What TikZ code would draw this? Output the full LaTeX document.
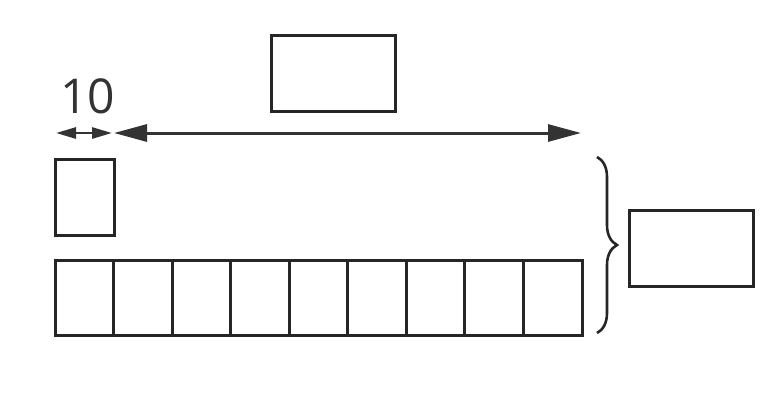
\documentclass[tikz,border=0pt]{standalone}
\usepackage{fontspec}
\setmainfont{Open Sans}
\usetikzlibrary{arrows.meta,decorations.pathreplacing}
\begin{document}
\begin{tikzpicture}[x=1pt,y=-1pt,
  box/.style={draw=black!85,line width=3pt,inner sep=0pt,outer sep=0pt,anchor=north west},
  bigarrow/.style={draw=black!80,line width=3pt,{Triangle[length=33pt,width=17pt]}-{Triangle[length=33pt,width=17pt]}},
  smallarrow/.style={draw=black!80,line width=2.8pt,{Triangle[length=20pt,width=11pt]}-{Triangle[length=20pt,width=11pt]}},
  lbl/.style={font=\fontsize{48}{48}\selectfont,text=black!80,inner sep=0pt}]
\useasboundingbox (0,0) rectangle (765,400);
% boxes
\node[box,minimum width=124pt,minimum height=76pt] (top) at (271,35) {};
\node[box,minimum width=59pt,minimum height=76pt] (small) at (55,159) {};
\foreach \i in {0,...,8}{
  \node[box,minimum width=58.56pt,minimum height=75pt] (c\i) at (55+58.56*\i,260) {};
}
\node[box,minimum width=124pt,minimum height=76pt] (res) at (629,210) {};
% arrows
\coordinate (a0) at (56,133);
\coordinate (a1) at (112,133);
\coordinate (b0) at (114,133);
\coordinate (b1) at (581,133);
\draw[smallarrow] (a0) -- (a1);
\draw[bigarrow] (b0) -- (b1);
\node[lbl,anchor=base] (ten) at (87.5,113) {10};
% brace
\coordinate (br0) at (597,157);
\coordinate (br1) at (597,333);
\draw[draw=black!85,line width=2.6pt,decorate,decoration={brace,amplitude=20pt,aspect=0.5}] (br0) -- (br1);
\end{tikzpicture}
\end{document}
